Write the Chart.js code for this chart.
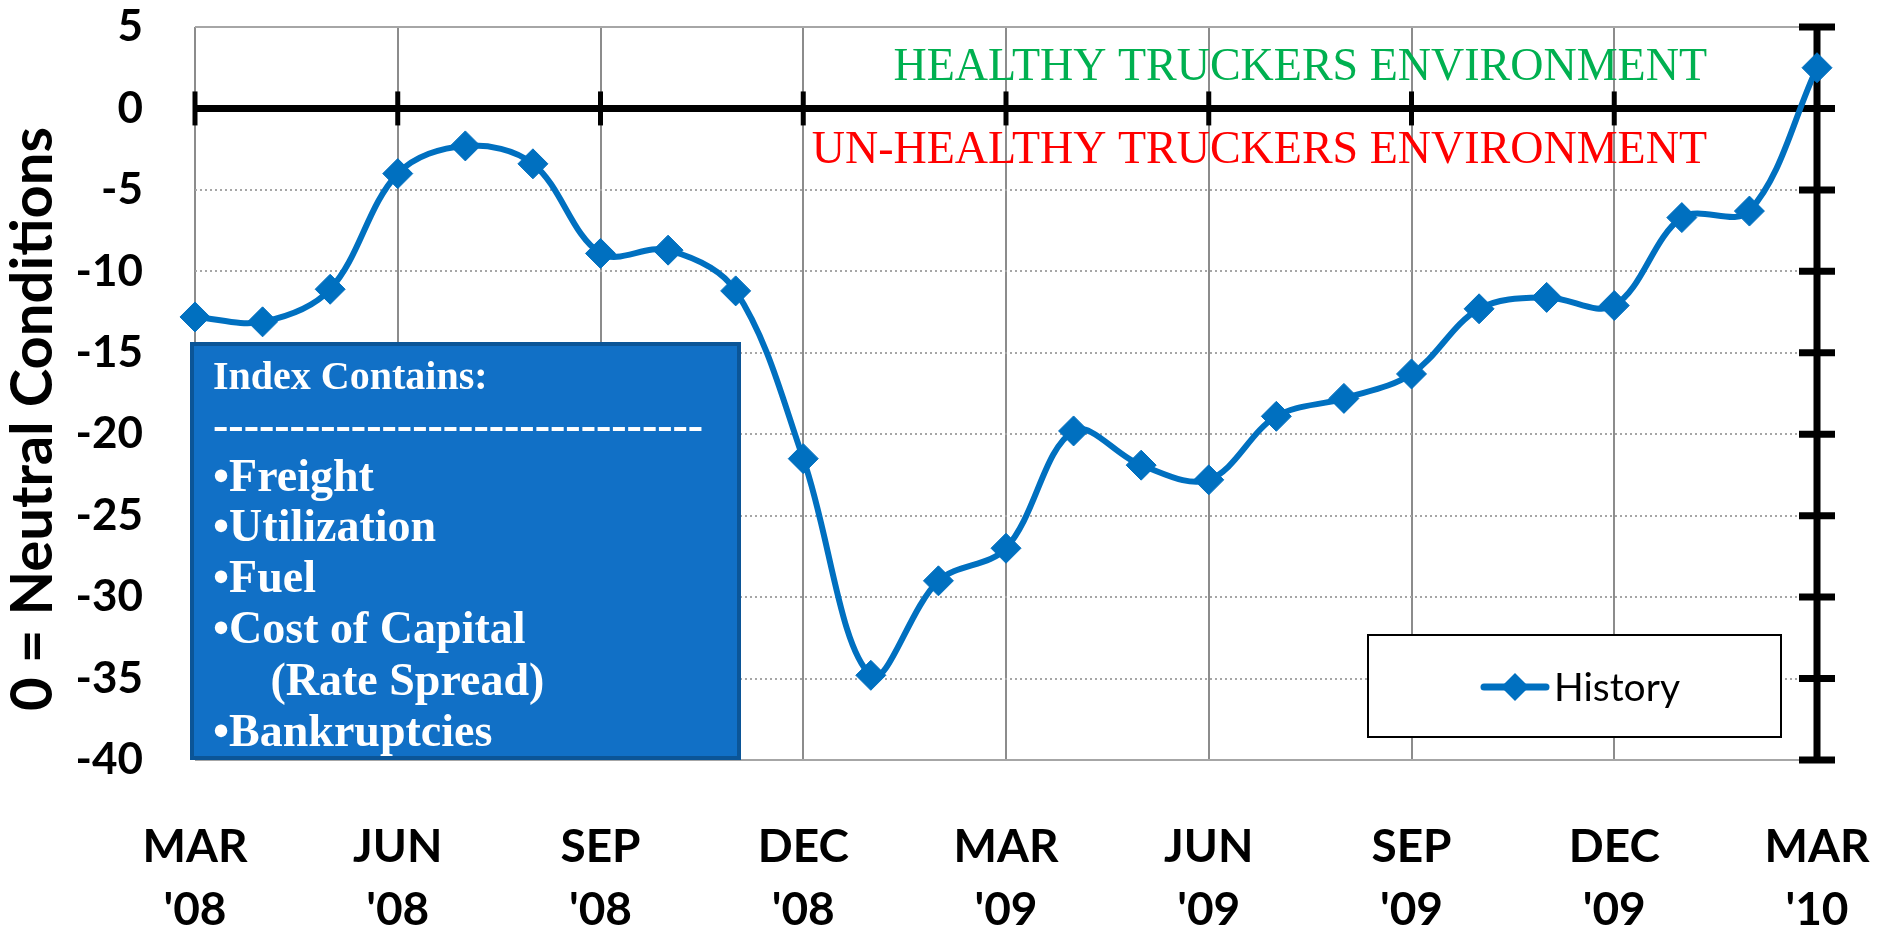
<!DOCTYPE html>
<html>
<head>
<meta charset="utf-8">
<title>Truckers Conditions Index</title>
<script src="https://cdn.jsdelivr.net/npm/chart.js"></script>
<style>
  html, body { margin: 0; padding: 0; background: #fff; }
  #chart { display: block; }
</style>
</head>
<body>
<canvas id="chart" width="1878" height="934"></canvas>
<script>
// monthly readings, Mar '08 .. Mar '10
var months = ['Mar 08', 'Apr 08', 'May 08', 'Jun 08', 'Jul 08', 'Aug 08', 'Sep 08', 'Oct 08', 'Nov 08',
    'Dec 08', 'Jan 09', 'Feb 09', 'Mar 09', 'Apr 09', 'May 09', 'Jun 09', 'Jul 09', 'Aug 09', 'Sep 09',
    'Oct 09', 'Nov 09', 'Dec 09', 'Jan 10', 'Feb 10', 'Mar 10'];
var historyValues = [-12.8, -13.1, -11.1, -4.0, -2.3, -3.4, -8.9, -8.7, -11.2,
    -21.5, -34.8, -29.0, -27.0, -19.8, -21.9, -22.8, -18.9, -17.8, -16.3,
    -12.3, -11.6, -12.1, -6.7, -6.3, 2.5];
// one label every third month
var quarterTicks = ["MAR '08", "JUN '08", "SEP '08", "DEC '08", "MAR '09", "JUN '09", "SEP '09", "DEC '09", "MAR '10"];
var yTicks = [5, 0, -5, -10, -15, -20, -25, -30, -35, -40];
var indexItems = ['Index Contains:', '--------------------------------', '\u2022Freight', '\u2022Utilization',
    '\u2022Fuel', '\u2022Cost of Capital', '     (Rate Spread)', '\u2022Bankruptcies'];

var lineBlue = '#0070c0';

function isQuarter(i) { return i % 3 === 0; }

var overlay = {
    id: 'overlay',
    beforeDatasetsDraw: function (chart) {
        var ctx = chart.ctx, area = chart.chartArea;
        var xs = chart.scales.x, ys = chart.scales.y;
        var y0 = ys.getPixelForValue(0);
        ctx.save();

        // heavy zero axis with quarter ticks
        ctx.strokeStyle = '#000';
        ctx.lineWidth = 7;
        ctx.beginPath();
        ctx.moveTo(area.left, y0);
        ctx.lineTo(area.right + 18, y0);
        ctx.stroke();
        ctx.lineWidth = 5;
        for (var i = 0; i < months.length; i += 3) {
            var px = xs.getPixelForValue(i);
            ctx.beginPath();
            ctx.moveTo(px, y0 - 17);
            ctx.lineTo(px, y0 + 17);
            ctx.stroke();
        }

        // heavy right axis with caps
        ctx.lineWidth = 7;
        ctx.beginPath();
        ctx.moveTo(area.right, area.top);
        ctx.lineTo(area.right, area.bottom);
        ctx.stroke();
        yTicks.forEach(function (v) {
            var py = ys.getPixelForValue(v);
            ctx.beginPath();
            ctx.moveTo(area.right - 18, py);
            ctx.lineTo(area.right + 18, py);
            ctx.stroke();
        });

        // zone captions
        ctx.textAlign = 'right';
        ctx.textBaseline = 'alphabetic';
        ctx.font = '46px "Liberation Serif", serif';
        ctx.fillStyle = '#00b050';
        ctx.fillText('HEALTHY TRUCKERS ENVIRONMENT', 1707, 80);
        ctx.fillStyle = '#ff0000';
        ctx.fillText('UN-HEALTHY TRUCKERS ENVIRONMENT', 1707, 163);

        // "Index Contains" box
        ctx.fillStyle = '#1170c6';
        ctx.fillRect(190, 342, 551, 418);
        ctx.strokeStyle = '#0b5597';
        ctx.lineWidth = 4;
        ctx.strokeRect(192, 344, 547, 414);
        ctx.fillStyle = '#fff';
        ctx.textAlign = 'left';
        var baselines = [389, 440, 491, 541, 592, 643, 695, 746];
        indexItems.forEach(function (t, k) {
            ctx.font = (k === 0 ? 'bold 40px' : 'bold 46px') + ' "Liberation Serif", serif';
            ctx.fillText(t, 213, baselines[k]);
        });

        // legend box
        ctx.fillStyle = '#fff';
        ctx.fillRect(1368, 635, 413, 102);
        ctx.strokeStyle = '#000';
        ctx.lineWidth = 2;
        ctx.strokeRect(1368, 635, 413, 102);
        ctx.strokeStyle = lineBlue;
        ctx.lineWidth = 7;
        ctx.lineCap = 'round';
        ctx.beginPath();
        ctx.moveTo(1484, 687);
        ctx.lineTo(1546, 687);
        ctx.stroke();
        ctx.fillStyle = lineBlue;
        ctx.beginPath();
        ctx.moveTo(1515 - 14, 687);
        ctx.lineTo(1515, 687 - 14);
        ctx.lineTo(1515 + 14, 687);
        ctx.lineTo(1515, 687 + 14);
        ctx.closePath();
        ctx.fill();
        ctx.fillStyle = '#000';
        ctx.font = '39px Lato, sans-serif';
        ctx.fillText(chart.data.datasets[0].label, 1554, 701);

        // y axis title
        ctx.translate(33, 419);
        ctx.rotate(-Math.PI / 2);
        ctx.textAlign = 'center';
        ctx.textBaseline = 'middle';
        ctx.font = 'bold 58px Lato, sans-serif';
        ctx.fillText('0 = Neutral Conditions', 0, 0);
        ctx.restore();
    }
};

new Chart(document.getElementById('chart').getContext('2d'), {
    type: 'line',
    data: {
        labels: months,
        datasets: [{
            label: 'History',
            data: historyValues,
            borderColor: lineBlue,
            backgroundColor: lineBlue,
            borderWidth: 6,
            tension: 0.35,
            pointStyle: 'rectRot',
            pointRadius: 15,
            pointBorderWidth: 1,
            pointBackgroundColor: lineBlue,
            pointBorderColor: lineBlue,
            clip: false
        }]
    },
    options: {
        responsive: false,
        devicePixelRatio: 1,
        animation: false,
        events: [],
        layout: { padding: { top: 27, right: 61, left: 0, bottom: 0 } },
        plugins: {
            legend: { display: false },
            tooltip: { enabled: false }
        },
        scales: {
            x: {
                type: 'category',
                afterFit: function (scale) {
                    scale.height = 174;
                    scale.paddingLeft = 0;
                    scale.paddingRight = 0;
                },
                border: { display: false },
                grid: {
                    drawTicks: false,
                    lineWidth: 2,
                    color: function (c) { return isQuarter(c.index) ? '#8c8c8c' : 'rgba(0,0,0,0)'; }
                },
                ticks: {
                    autoSkip: false,
                    maxRotation: 0,
                    padding: 56,
                    color: '#000',
                    font: { family: 'Lato', weight: 'bold', size: 46, lineHeight: 1.37 },
                    callback: function (val, i) {
                        return isQuarter(i) ? quarterTicks[i / 3].split(' ') : '';
                    }
                }
            },
            y: {
                min: -40,
                max: 5,
                afterFit: function (scale) {
                    scale.width = 195;
                    scale.paddingTop = 0;
                    scale.paddingBottom = 0;
                },
                border: {
                    display: false,
                    dash: function (c) {
                        var v = c.tick && c.tick.value;
                        return (v === 5 || v === -40) ? [] : [2, 3];
                    }
                },
                grid: {
                    drawTicks: false,
                    lineWidth: 2,
                    color: '#a6a6a6'
                },
                ticks: {
                    stepSize: 5,
                    padding: 52,
                    color: '#000',
                    font: { family: 'Lato', weight: 'bold', size: 44 }
                }
            }
        }
    },
    plugins: [overlay]
});
</script>
</body>
</html>
